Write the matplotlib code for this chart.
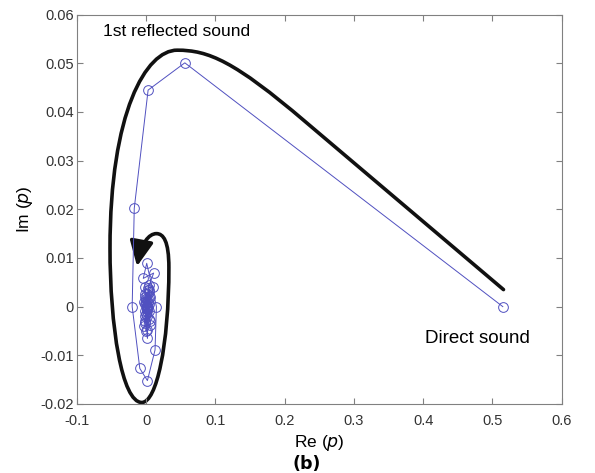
import matplotlib
matplotlib.use('Agg')
import matplotlib.pyplot as plt
from matplotlib.path import Path
from matplotlib.patches import FancyArrowPatch

plt.rcParams['font.family'] = ['Liberation Sans', 'DejaVu Sans']

# trajectory of the pressure in the complex plane
re_p = [0.515, 0.056, 0.003, -0.017, -0.020, -0.009, 0.002, 0.013, 0.015,
        0.001, -0.004, 0.011, 0.003, 0.010, -0.001, 0.006, 0.001, 0.002,
        0.004, -0.002, 0.006, -0.003, 0.005, -0.002, 0.004, -0.001, 0.003,
        -0.002, 0.004, -0.001, 0.002, 0.000, 0.003, -0.001, 0.002, 0.000,
        0.002, 0.000, 0.001, 0.0005, 0.0015, 0.001, 0.002, 0.001, 0.0015,
        0.005, -0.003, 0.006, -0.002, 0.004, 0.0, 0.003, 0.001]
im_p = [0.0, 0.0501, 0.0445, 0.0202, 0.0, -0.0127, -0.0152, -0.0089, 0.0,
        0.0089, 0.0058, 0.0069, 0.0038, 0.0041, -0.0034, -0.0038, -0.0048, -0.0065,
        0.0030, 0.0025, 0.0020, 0.0010, -0.0010, -0.0020, -0.0025, 0.0020, 0.0015,
        -0.0010, 0.0005, -0.0030, 0.0025, -0.0015, 0.0010, 0.0005, -0.0020, 0.0015,
        -0.0005, 0.0010, -0.0010, 0.0005, -0.0005, 0.0003, -0.0003, 0.0001, 0.0,
        0.0035, -0.0040, -0.0030, 0.0040, 0.0045, -0.0050, 0.0, 0.0]

# hand-drawn annotation curve (bezier anchors and controls)
curve_pts = [(0.516, 0.0035), (0.23, 0.038),
             (0.127, 0.0505), (0.09, 0.0527), (0.045, 0.0527),
             (0.0, 0.0527), (-0.052, 0.040), (-0.052, 0.012),
             (-0.052, -0.004), (-0.035, -0.0197), (-0.006, -0.0197),
             (0.015, -0.0197), (0.033, -0.008), (0.033, 0.008),
             (0.033, 0.0135), (0.025, 0.0150), (0.015, 0.0150),
             (0.004, 0.0150), (-0.007, 0.0130), (-0.013, 0.0083)]
curve_codes = [Path.MOVETO, Path.LINETO] + [Path.CURVE4] * 18

fig = plt.figure(figsize=(5.95, 4.73), dpi=100)
ax = fig.add_axes([0.129, 0.146, 0.815, 0.823])

ax.plot(re_p, im_p, '-o', color='#5050c0', lw=0.7, ms=7,
        mfc='none', mec='#5050c0', mew=0.7)

arr = FancyArrowPatch(path=Path(curve_pts, curve_codes),
                      arrowstyle='-|>,head_length=0.95,head_width=0.45',
                      mutation_scale=16, lw=2.6, color='#111111', shrinkA=0, shrinkB=0)
ax.add_patch(arr)

ax.text(0.044, 0.0565, '1st reflected sound', fontsize=12.5, ha='center', va='center')
ax.text(0.479, -0.0066, 'Direct sound', fontsize=13.5, ha='center', va='center')

ax.set_xlim(-0.1, 0.6)
ax.set_ylim(-0.02, 0.06)
ax.set_xticks([-0.1, 0, 0.1, 0.2, 0.3, 0.4, 0.5, 0.6])
ax.set_xticklabels(['-0.1', '0', '0.1', '0.2', '0.3', '0.4', '0.5', '0.6'])
ax.set_yticks([-0.02, -0.01, 0, 0.01, 0.02, 0.03, 0.04, 0.05, 0.06])
ax.set_yticklabels(['-0.02', '-0.01', '0', '0.01', '0.02', '0.03', '0.04', '0.05', '0.06'])
ax.tick_params(direction='in', top=True, right=True, length=4, width=0.8,
               color='#808080', labelsize=10.5, labelcolor='#333333')
ax.tick_params(axis='x', pad=7)
ax.tick_params(axis='y', pad=2)
for s in ax.spines.values():
    s.set_color('#808080')
    s.set_linewidth(0.8)

ax.set_xlabel('Re ($p$)', fontsize=12.5, labelpad=4)
ax.set_ylabel('Im ($p$)', fontsize=12.5, labelpad=4)
fig.text(0.515, 0.020, '(b)', fontsize=12.5, fontweight='bold', ha='center', va='center',
         family='DejaVu Sans')

fig.savefig('out.png', dpi=100)
